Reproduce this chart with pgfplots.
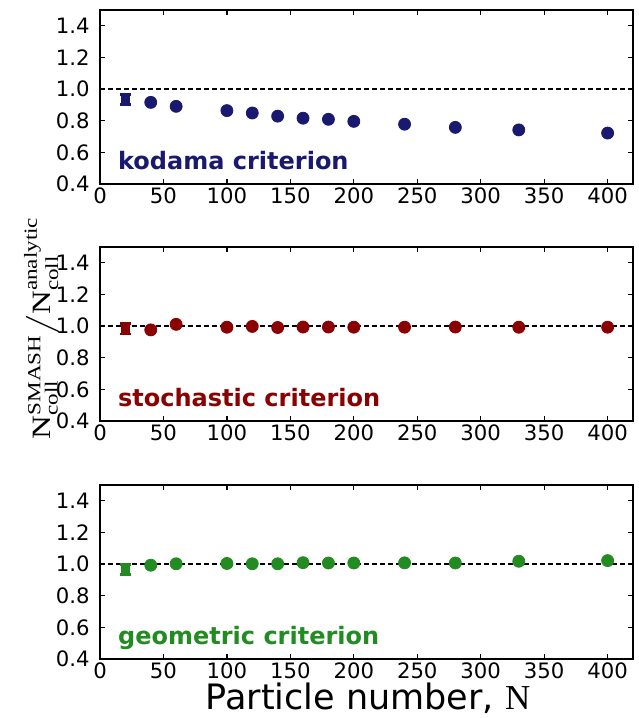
\documentclass[border=0pt]{standalone}
\usepackage{fontspec}
\setmainfont{DejaVu Sans}
\newfontfamily\tnr{Liberation Serif}
\usepackage{amsmath}
\usepackage{graphicx}
\usepackage{pgfplots}
\pgfplotsset{compat=1.18}

\definecolor{kod}{RGB}{25,25,112}
\definecolor{sto}{RGB}{139,0,0}
\definecolor{geo}{RGB}{34,139,34}

\tikzset{crit/.style={anchor=base west, inner sep=0pt, text=#1, font=\bfseries\fontsize{12}{14}\selectfont}}

\pgfplotsset{
  panel/.style={
    width=266.5pt, height=87pt, scale only axis,
    xmin=0, xmax=420, ymin=0.4, ymax=1.5,
    xtick={0,50,...,400},
    ytick={0.4,0.6,0.8,1.0,1.2,1.4},
    yticklabel style={/pgf/number format/fixed,
      /pgf/number format/fixed zerofill,
      /pgf/number format/precision=1, inner sep=0.5pt, xshift=-4.5pt},
    xticklabel style={inner sep=0.5pt, yshift=-1pt},
    /pgf/number format/assume math mode=true,
    tick label style={font=\fontsize{10.6}{12}\selectfont},
    tick align=inside, xtick pos=both, ytick pos=both,
    major tick length=2.5pt,
    tick style={black, line width=0.6pt},
    axis line style={line width=0.75pt},
    anchor=north west,
  },
  refline/.style={black, line width=1.3pt, dash pattern=on 2.5pt off 1.5pt},
  pts/.style={only marks, mark=*, mark size=3pt, mark options={draw=#1, fill=#1}},
  first/.style={only marks, mark=square*, mark size=1.8pt, #1,
    mark options={draw=#1, fill=#1},
    error bars/.cd, y dir=both, y explicit,
    error bar style={line width=1.4pt, #1},
    error mark options={rotate=90, mark size=2.6pt, line width=1.4pt, #1}},
}

\begin{document}
\begin{tikzpicture}
\path (-50pt,5pt) rectangle (269pt,-354pt);

% kodama
\begin{axis}[panel, at={(0pt,0pt)}]
\addplot[refline] coordinates {(0,1) (420,1)};
\addplot[first=kod] coordinates {(20,0.933) +- (0,0.032)};
\addplot[pts=kod] coordinates {
  (40,0.916) (60,0.891) (100,0.864) (120,0.849) (140,0.829)
  (160,0.816) (180,0.809) (200,0.796) (240,0.778) (280,0.758)
  (330,0.742) (400,0.722)
};
\node[crit=kod] at (axis cs:14,0.49) {kodama criterion};
\end{axis}

% stochastic
\begin{axis}[panel, at={(0pt,-118.5pt)}]
\addplot[refline] coordinates {(0,1) (420,1)};
\addplot[first=sto] coordinates {(20,0.982) +- (0,0.032)};
\addplot[pts=sto] coordinates {
  (40,0.976) (60,1.011) (100,0.993) (120,0.998) (140,0.991)
  (160,0.994) (180,0.994) (200,0.993) (240,0.993) (280,0.994)
  (330,0.993) (400,0.993)
};
\node[crit=sto] at (axis cs:14,0.49) {stochastic criterion};
\end{axis}

% geometric
\begin{axis}[panel, at={(0pt,-237.5pt)}]
\addplot[refline] coordinates {(0,1) (420,1)};
\addplot[first=geo] coordinates {(20,0.965) +- (0,0.032)};
\addplot[pts=geo] coordinates {
  (40,0.993) (60,1.002) (100,1.004) (120,1.002) (140,1.002)
  (160,1.009) (180,1.007) (200,1.007) (240,1.008) (280,1.007)
  (330,1.018) (400,1.022)
};
\node[crit=geo] at (axis cs:14,0.49) {geometric criterion};
\end{axis}

\node[rotate=90, anchor=center] at (-29pt,-159pt)
  {\scalebox{1}[0.8]{\fontsize{16.5}{19}\selectfont
   $\text{\tnr N}^{\text{\tnr SMASH}}_{\text{\tnr coll}}\big/\text{\tnr N}^{\text{\tnr analytic}}_{\text{\tnr coll}}$}};
\node[anchor=base, inner sep=0pt, font=\fontsize{17.5}{20}\selectfont] at (134pt,-349.5pt)
  {Particle number, {\tnr N}};
\end{tikzpicture}
\end{document}
